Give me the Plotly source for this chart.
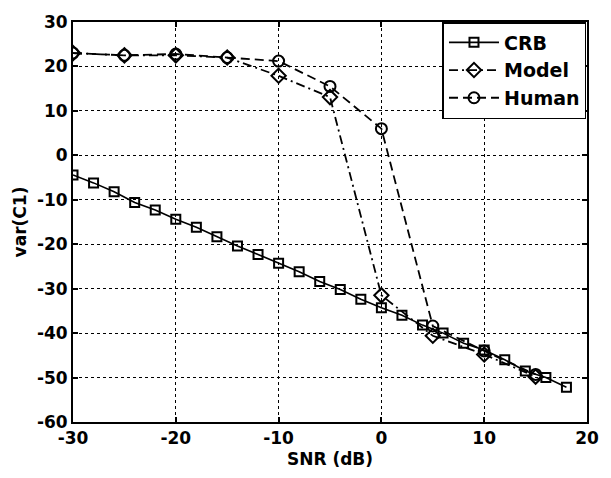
import plotly.graph_objects as go

crb_x = [-30, -28, -26, -24, -22, -20, -18, -16, -14, -12, -10, -8, -6, -4, -2, 0, 2, 4, 6, 8, 10, 12, 14, 16, 18]
crb_y = [-4.4, -6.2, -8.2, -10.6, -12.3, -14.4, -16.2, -18.3, -20.4, -22.3, -24.3, -26.2, -28.4, -30.2,
         -32.4, -34.3, -36.0, -38.2, -40.0, -42.3, -43.8, -46.0, -48.5, -50.0, -52.2]

snr = [-30, -25, -20, -15, -10, -5, 0, 5, 10, 15]
model_y = [23.0, 22.5, 22.5, 22.0, 17.9, 13.1, -31.5, -40.6, -44.8, -49.8]
human_y = [23.0, 22.5, 22.8, 22.0, 21.2, 15.5, 6.0, -38.4, -44.0, -49.3]

xticks = [-30, -20, -10, 0, 10, 20]
yticks = [-60, -50, -40, -30, -20, -10, 0, 10, 20, 30]

FONT = "DejaVu Sans"

fig = go.Figure()
fig.add_trace(go.Scatter(x=crb_x, y=crb_y, name="CRB", mode="lines+markers",
                         line=dict(color="black", width=1.6, dash="solid"),
                         marker=dict(symbol="square-open", size=9, color="black", line=dict(width=2))))
fig.add_trace(go.Scatter(x=snr, y=model_y, name="Model", mode="lines+markers",
                         line=dict(color="black", width=1.8, dash="9px,4px,2px,4px"),
                         marker=dict(symbol="diamond-open", size=11, color="black", line=dict(width=2))))
fig.add_trace(go.Scatter(x=snr, y=human_y, name="Human", mode="lines+markers",
                         line=dict(color="black", width=1.8, dash="9px,5px"),
                         marker=dict(symbol="circle-open", size=11, color="black", line=dict(width=2))))

axis_common = dict(showline=True, linecolor="black", linewidth=2, mirror="ticks",
                   ticks="inside", ticklen=5, tickcolor="black", tickwidth=1.5,
                   showgrid=True, gridcolor="black", griddash="dot", gridwidth=1,
                   zeroline=False,
                   tickfont=dict(family=FONT, size=17, color="black", weight="bold"))

fig.update_xaxes(range=[-30, 20], tickvals=xticks, ticktext=[f"<b>{v}</b>" for v in xticks],
                 title=dict(text="<b>SNR (dB)</b>", standoff=6,
                            font=dict(family=FONT, size=17, color="black")),
                 **axis_common)
fig.update_yaxes(range=[-60, 30], tickvals=yticks, ticktext=[f"<b>{v}</b>" for v in yticks],
                 title=dict(text="<b>var(C1)</b>", standoff=6,
                            font=dict(family=FONT, size=17, color="black")),
                 **axis_common)

fig.update_layout(
    width=611, height=478,
    margin=dict(l=73, r=14, t=13, b=55),
    paper_bgcolor="white", plot_bgcolor="white",
    showlegend=True,
    legend=dict(x=0.999, y=1.0, xanchor="right", yanchor="top",
                bgcolor="white", bordercolor="black", borderwidth=1.5,
                font=dict(family=FONT, size=19, color="black", weight="bold"),
                itemwidth=50),
)

fig.write_html("out.html")
